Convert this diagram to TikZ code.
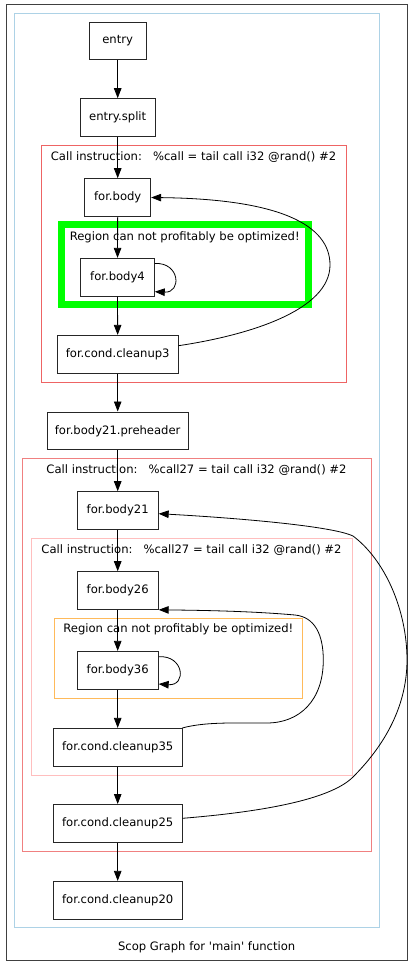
\documentclass[tikz,border=0pt]{standalone}
\usepackage{fontspec}
\setmainfont{DejaVu Sans}
\usetikzlibrary{arrows.meta}
\definecolor{clblue}{RGB}{173,210,230}
\definecolor{clred}{RGB}{238,100,100}
\definecolor{clred2}{RGB}{240,128,128}
\definecolor{clpink}{RGB}{255,190,190}
\definecolor{clorange}{RGB}{255,186,90}
\definecolor{clgreen}{RGB}{0,255,0}
\begin{document}
\begin{tikzpicture}[x=1pt,y=-1pt,
  blk/.style={draw=black!85,line width=0.9pt,minimum height=37.7pt,inner sep=0pt,font=\fontsize{11.6}{13}\selectfont},
  arr/.style={-{Triangle[length=10pt,width=7.5pt]},line width=0.8pt,black},
  lbl/.style={font=\fontsize{11.6}{13}\selectfont,inner sep=0pt},
  frame/.style={line width=0.9pt}]
\useasboundingbox (0,0) rectangle (414,967);
% clusters
\draw[frame,black!75] (6.3,4.7) rectangle (407.5,960.7);
\draw[frame,clblue] (14.7,13.3) rectangle (379.3,927.7);
\draw[frame,clred] (41,145.7) rectangle (346.7,382);
\draw[line width=7pt,clgreen] (61,224.7) rectangle (308,304.7);
\draw[frame,clred2] (22.7,458.7) rectangle (371,851.3);
\draw[frame,clpink] (31.3,538.3) rectangle (352.3,775);
\draw[frame,clorange] (54.3,618.7) rectangle (302.7,698);
% labels
\node[lbl] (lab1) at (193.5,156.7) {Call instruction:\ \ \ \%call = tail call i32 @rand() \#2};
\node[lbl] (lab2) at (184.7,237.3) {Region can not profitably be optimized!};
\node[lbl] (lab3) at (196.5,469.7) {Call instruction:\ \ \ \%call27 = tail call i32 @rand() \#2};
\node[lbl] (lab4) at (191.5,549.7) {Call instruction:\ \ \ \%call27 = tail call i32 @rand() \#2};
\node[lbl] (lab5) at (178.3,629.3) {Region can not profitably be optimized!};
\node[lbl] (cap) at (206.7,947.7) {Scop Graph for \textquotesingle main\textquotesingle\ function};
% nodes
\node[blk,minimum width=56.7pt] (entry) at (117.7,41) {entry};
\node[blk,minimum width=74.7pt] (split) at (117.7,117.5) {entry.split};
\node[blk,minimum width=66pt] (body) at (117.7,197.5) {for.body};
\node[blk,minimum width=73.6pt] (b4) at (117.5,277.2) {for.body4};
\node[blk,minimum width=120.7pt] (c3) at (117.7,354.2) {for.cond.cleanup3};
\node[blk,minimum width=141pt] (pre) at (117.7,430.8) {for.body21.preheader};
\node[blk,minimum width=81pt] (b21) at (117.7,510.5) {for.body21};
\node[blk,minimum width=81pt] (b26) at (117.7,590.5) {for.body26};
\node[blk,minimum width=81pt] (b36) at (117.7,670.2) {for.body36};
\node[blk,minimum width=128.7pt] (c35) at (117.7,747.2) {for.cond.cleanup35};
\node[blk,minimum width=128.7pt] (c25) at (117.7,823.3) {for.cond.cleanup25};
\node[blk,minimum width=128.7pt] (c20) at (117.7,900.2) {for.cond.cleanup20};
% straight edges
\draw[arr] (entry) -- (split);
\draw[arr] (split) -- (body);
\draw[arr] (body) -- (b4);
\draw[arr] (b4) -- (c3);
\draw[arr] (c3) -- (pre);
\draw[arr] (pre) -- (b21);
\draw[arr] (b21) -- (b26);
\draw[arr] (b26) -- (b36);
\draw[arr] (b36) -- (c35);
\draw[arr] (c35) -- (c25);
\draw[arr] (c25) -- (c20);
% self loops
\draw[arr] ([yshift=13.7pt]b4.east) .. controls (180,262) and (182,293) .. ([yshift=-14.5pt]b4.east);
\draw[arr] ([yshift=13.5pt]b36.east) .. controls (184,655) and (187,686) .. ([yshift=-13.8pt]b36.east);
% back edges
\draw[arr] ([yshift=8.5pt]c3.east) .. controls (250,335) and (330,310) .. (330,265)
  .. controls (330,225) and (280,199) .. (body.east);
\draw[arr] (c35.north east) .. controls (205,722) and (230,723) .. (266.7,723)
  .. controls (300,723) and (323.3,700) .. (323.3,660)
  .. controls (323.3,635) and (315,617) .. (295,615)
  .. controls (250,611) and (200,610.3) .. (b26.south east);
\draw[arr] ([yshift=5pt]c25.east) .. controls (260,812) and (330,800) .. (353,777)
  .. controls (390,740) and (407,700) .. (407,660)
  .. controls (407,610) and (385,560) .. (353,536)
  .. controls (330,525) and (220,517) .. ([yshift=-3.2pt]b21.east);
\end{tikzpicture}
\end{document}
